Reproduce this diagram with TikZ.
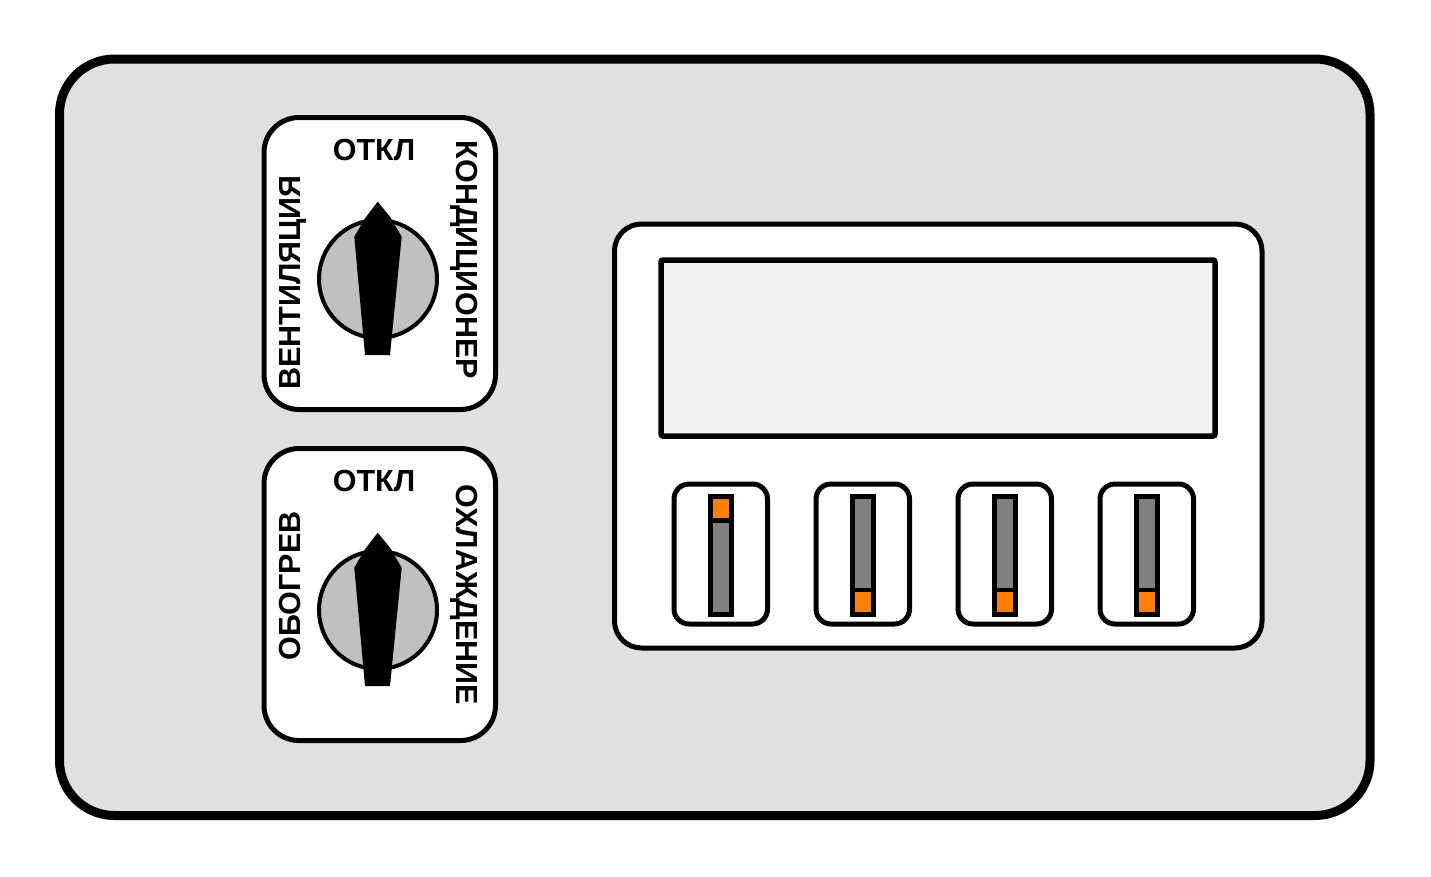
\documentclass[tikz,border=0pt]{standalone}
\usepackage{fontspec}
\setmainfont{Liberation Sans}
\definecolor{panel}{HTML}{E0E0E0}
\definecolor{knobgray}{HTML}{C0C0C0}
\definecolor{screen}{HTML}{F2F2F2}
\definecolor{trackgray}{HTML}{808080}
\definecolor{ledorange}{HTML}{FF8000}
\begin{document}
\begin{tikzpicture}[x=1pt,y=-1pt,
  lbl/.style={font=\fontsize{30.5}{30.5}\selectfont\bfseries, inner sep=0pt, anchor=base},
  frame/.style={draw=black, line width=5pt}]
\useasboundingbox (0,0) rectangle (1431,876);
\fill[white] (0,0) rectangle (1431,876);
% outer panel
\draw[line width=9pt, fill=panel, rounded corners=55pt] (59.5,59) rectangle (1370,815.5);
% knob modules
\foreach \k/\top/\lft/\rgt/\lc/\rc in {1/ОТКЛ/ВЕНТИЛЯЦИЯ/КОНДИЦИОНЕР/282.5/260, 2/ОТКЛ/ОБОГРЕВ/ОХЛАЖДЕНИЕ/255/264}{
  \begin{scope}[shift={(0,{331*(\k-1)})}]
    \draw[frame, fill=white, rounded corners=35pt] (264,117.5) rectangle (495.5,409.5);
    \draw[line width=4pt, fill=knobgray] (378,279) circle[radius=59pt];
    \fill[black] (377.7,201.7) -- (365,218.3) -- (354.3,236.7) -- (365,355) -- (390,355) -- (401.7,236.7) -- (390,216.7) -- cycle;
    \node[lbl] (top\k) at (374,160.5) {\top};
    \node[lbl, rotate=90] (left\k) at (300.5,\lc) {\lft};
    \node[lbl, rotate=-90] (right\k) at (456.5,\rc) {\rgt};
  \end{scope}
}
% display module
\draw[line width=5pt, fill=white, rounded corners=27pt] (614.5,224) rectangle (1262,648);
\draw[line width=5.5pt, fill=screen, rounded corners=2pt] (661,260) rectangle (1215,436);
% sliders
\foreach \i in {0,1,2,3}{
  \begin{scope}[shift={({142*\i},0)}]
    \draw[frame, fill=white, rounded corners=15pt] (674,484) rectangle (767.5,624);
    \fill[trackgray] (710.5,496.5) rectangle (731.5,614);
    \ifnum\i=0
      \fill[ledorange] (710.5,496.5) rectangle (731.5,520.5);
      \draw[line width=4.5pt] (710.5,520.5) -- (731.5,520.5);
    \else
      \fill[ledorange] (710.5,590) rectangle (731.5,614);
      \draw[line width=4.5pt] (710.5,590) -- (731.5,590);
    \fi
    \draw[line width=5pt] (710.5,496.5) rectangle (731.5,614);
  \end{scope}
}
\end{tikzpicture}
\end{document}
